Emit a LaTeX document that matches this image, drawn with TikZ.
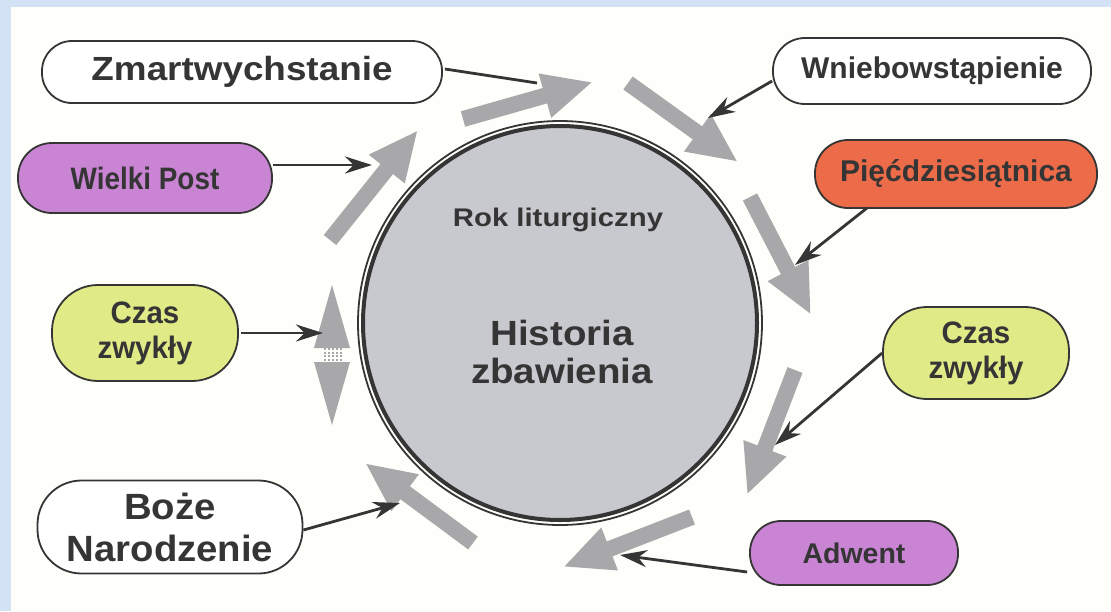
\documentclass[tikz,border=0pt]{standalone}
\usepackage{fontspec}
\setmainfont{Liberation Sans}
\usetikzlibrary{arrows.meta}
\newcommand\sx[2]{\scalebox{#1}[1]{#2}}
\definecolor{bgblue}{HTML}{D3E3F5}
\definecolor{paper}{HTML}{FEFEFA}
\definecolor{ink}{HTML}{353535}
\definecolor{purp}{HTML}{C985D4}
\definecolor{orng}{HTML}{EC6B48}
\definecolor{lime}{HTML}{E0EA86}
\definecolor{fatgray}{HTML}{A8A8AA}
\definecolor{globe}{HTML}{C8C9CE}
\tikzset{
  pill/.style={draw=ink, line width=1.8pt, text=ink, align=center, inner sep=0pt},
  fat/.style={draw=fatgray, line width=16pt, -{Triangle[length=50pt,width=42pt]}},
  link/.style={draw=ink, line width=2.8pt, -{Stealth[length=27pt,width=17pt]}},
  plainlink/.style={draw=ink, line width=2.8pt},
  lbl/.style={text=ink, align=center, inner sep=0pt},
}
\begin{document}
\begin{tikzpicture}[x=1pt,y=-1pt]
\fill[bgblue] (0,0) rectangle (1111,611);
\fill[paper] (11,7) rectangle (1111,611);
\useasboundingbox (0,0) rectangle (1111,611);

% globe
\node[circle, minimum size=394pt, fill=globe, draw=ink, line width=4pt, inner sep=0pt] (globe) at (560,323) {};
\draw[ink, line width=1.8pt] (globe.center) circle (202pt);
\node[lbl, font=\bfseries\fontsize{25.5}{30}\selectfont] (rok) at (558,220) {\sx{1.15}{Rok liturgiczny}};
\node[lbl, font=\bfseries\fontsize{35}{38}\selectfont] (hist) at (562,352) {\sx{1.1}{Historia}\\\sx{1.1}{zbawienia}};

% boxes
\node[pill, fill=white, minimum width=400pt, minimum height=62pt, rounded corners=30pt, font=\bfseries\fontsize{33.5}{38}\selectfont] (zm) at (242,72) {\sx{1.1}{Zmartwychstanie}};
\node[pill, fill=white, minimum width=318pt, minimum height=66pt, rounded corners=32pt, font=\bfseries\fontsize{30}{30}\selectfont] (wn) at (932,71) {\sx{1.0}{Wniebowstąpienie}};
\node[pill, fill=purp, minimum width=254pt, minimum height=70pt, rounded corners=34pt, font=\bfseries\fontsize{31}{30}\selectfont] (wp) at (145,178) {\sx{0.9}{Wielki Post}};
\node[pill, fill=orng, minimum width=282pt, minimum height=68pt, rounded corners=33pt, font=\bfseries\fontsize{30}{30}\selectfont] (pi) at (956,174) {\sx{1.0}{Pięćdziesiątnica}};
\node[pill, fill=lime, minimum width=186pt, minimum height=96pt, rounded corners=46pt, font=\bfseries\fontsize{31}{35}\selectfont] (czL) at (145,333) {\sx{0.95}{Czas}\\\sx{0.95}{zwykły}};
\node[pill, fill=lime, minimum width=186pt, minimum height=92pt, rounded corners=44pt, font=\bfseries\fontsize{31}{35}\selectfont] (czR) at (976,353) {\sx{0.95}{Czas}\\\sx{0.95}{zwykły}};
\node[pill, fill=white, minimum width=265pt, minimum height=93pt, rounded corners=44pt, font=\bfseries\fontsize{36.5}{42}\selectfont] (bn) at (170,527) {\sx{1.05}{Boże}\\\sx{1.05}{Narodzenie}};
\node[pill, fill=purp, minimum width=208pt, minimum height=64pt, rounded corners=31pt, font=\bfseries\fontsize{28.5}{30}\selectfont] (ad) at (854,553) {\sx{1.0}{Adwent}};

% gray cycle arrows
\coordinate (g1s) at (463,119); \coordinate (g1e) at (593,82);
\coordinate (g2s) at (628,83);  \coordinate (g2e) at (738,162);
\coordinate (g3s) at (330,240); \coordinate (g3e) at (418,130);
\coordinate (g5s) at (750,197); \coordinate (g5e) at (811,315);
\coordinate (g6s) at (795,370); \coordinate (g6e) at (747,495);
\coordinate (g7s) at (692,517); \coordinate (g7e) at (563,567);
\coordinate (g8s) at (473,543); \coordinate (g8e) at (365,463);
\draw[fat] (g1s) -- (g1e);
\draw[fat] (g2s) -- (g2e);
\draw[fat] (g3s) -- (g3e);
\draw[fat] (g5s) -- (g5e);
\draw[fat] (g6s) -- (g6e);
\draw[fat] (g7s) -- (g7e);
\draw[fat] (g8s) -- (g8e);
% double-headed arrow on the left
\coordinate (dtop) at (332,285); \coordinate (dbot) at (332,425);
\fill[fatgray] (dtop) -- (314,348) -- (350,348) -- cycle;
\fill[fatgray] (dbot) -- (314,362) -- (350,362) -- cycle;
\foreach \xx in {325,329,333,337,341}
  \draw[fatgray, line width=1.6pt, dash pattern=on 2pt off 1.5pt] (\xx,348) -- (\xx,362);

% dark connectors
\coordinate (t1) at (537,83);
\coordinate (t2) at (708,118);
\coordinate (t3) at (372,165);
\coordinate (t4) at (795,265);
\coordinate (t5) at (775,445);
\coordinate (t6) at (620,555);
\coordinate (t7) at (400,503);
\coordinate (t8) at (323,333);
\draw[plainlink] (zm.east) ++(2,-3) coordinate (zmo) (zmo) -- (t1);
\draw[link] (wn.west) ++(0,10) coordinate (wno) (wno) -- (t2);
\draw[link] (wp.east |- t3) -- (t3);
\draw[link] (pi.south west) ++(53,-1) coordinate (pio) (pio) -- (t4);
\draw[link] (czR.west) -- (t5);
\draw[link] (ad.west) ++(-2,19) coordinate (ado) (ado) -- (t6);
\draw[link] (bn.east) ++(0,3) coordinate (bno) (bno) -- (t7);
\draw[link] (czL.east) ++(2,0) coordinate (czo) (czo) -- (t8);
\end{tikzpicture}
\end{document}
